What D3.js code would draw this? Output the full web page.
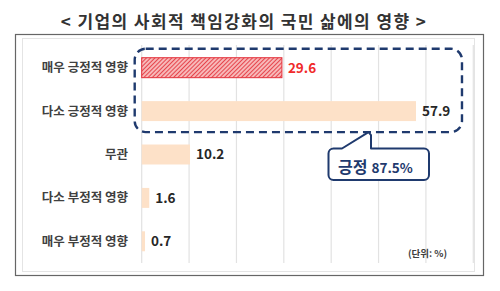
<!DOCTYPE html>
<html><head><meta charset="utf-8">
<script src="https://cdn.jsdelivr.net/npm/d3@7"></script>
<style>
html,body{margin:0;padding:0;background:#fff;}
svg{display:block;}
text{font-family:"Noto Sans CJK KR","Noto Sans",sans-serif;}
</style></head>
<body>
<svg id="c" width="500" height="291"></svg>
<script>
const title = "< 기업의 사회적 책임강화의 국민 삶에의 영향 >";
const categories = ["매우 긍정적 영향","다소 긍정적 영향","무관","다소 부정적 영향","매우 부정적 영향"];
const values = [29.6, 57.9, 10.2, 1.6, 0.7];
const gridTicks = [0,10,20,30,40,50,60,70];
const calloutLabel = "긍정";
const calloutValue = "87.5%";
const unitLabel = "(단위: %)";

const svg = d3.select("#c");
const navy = "#1f3a6e";

// pattern
const defs = svg.append("defs");
const pat = defs.append("pattern").attr("id","hatch").attr("patternUnits","userSpaceOnUse")
  .attr("width",3).attr("height",3).attr("patternTransform","rotate(45)");
pat.append("rect").attr("width",3).attr("height",3).attr("fill","#f7b8b8");
pat.append("line").attr("x1",0).attr("y1",0).attr("x2",0).attr("y2",3).attr("stroke","#e3303a").attr("stroke-width",1.7);

// title
svg.append("text").attr("x",244).attr("y",28).attr("text-anchor","middle")
  .attr("font-size",17).attr("font-weight","bold").attr("fill","#333")
  .attr("letter-spacing",1.4).text(title);

// frames
svg.append("rect").attr("x",15.5).attr("y",34.5).attr("width",468).attr("height",241)
  .attr("fill","#fff").attr("stroke","#666").attr("stroke-width",1.2);
svg.append("rect").attr("x",22.5).attr("y",38.5).attr("width",452).attr("height",233)
  .attr("fill","none").attr("stroke","#e4e4e4").attr("stroke-width",1);

const x = d3.scaleLinear().domain([0,70]).range([141.7,473.3]);
const y = d3.scaleBand().domain(categories).range([46,263]).paddingInner(0.54).paddingOuter(0.27);

// grid
svg.append("g").selectAll("line").data(gridTicks).join("line")
  .attr("x1",d=>x(d)).attr("x2",d=>x(d)).attr("y1",45).attr("y2",263)
  .attr("stroke","#e2e2e2").attr("stroke-width",1.2);

// bars
const data = categories.map((c,i)=>({c,v:values[i],i}));
svg.append("g").selectAll("rect").data(data).join("rect")
  .attr("x",x(0)).attr("y",d=>y(d.c)).attr("width",d=>x(d.v)-x(0)).attr("height",y.bandwidth())
  .attr("fill",d=>d.i===0?"url(#hatch)":"#fde1c8")
  .attr("stroke",d=>d.i===0?"#e3303a":"none").attr("stroke-width",1);

// category labels
svg.append("g").selectAll("text").data(data).join("text")
  .attr("x",128).attr("y",d=>y(d.c)+y.bandwidth()/2).attr("dy","0.36em")
  .attr("text-anchor","end").attr("font-size",12.5).attr("font-weight","bold").attr("fill","#404040")
  .text(d=>d.c);

// value labels
svg.append("g").selectAll("text").data(data).join("text")
  .attr("x",d=>x(d.v)+6).attr("y",d=>y(d.c)+y.bandwidth()/2).attr("dy","0.37em")
  .attr("font-size",13.5).attr("font-weight","bold")
  .attr("fill",d=>d.i===0?"#f02a2a":"#262626")
  .text(d=>d.v.toFixed(1));

// dashed rounded box
const bx0 = x(0)-7, bx1 = x(values[1])+46;
const by0 = y(categories[0])-9, by1 = y(categories[1])+y.bandwidth()+11;
svg.append("rect").attr("x",bx0).attr("y",by0).attr("width",bx1-bx0).attr("height",by1-by0)
  .attr("rx",11).attr("fill","none").attr("stroke",navy).attr("stroke-width",2.4)
  .attr("stroke-dasharray","8,5");

// callout
const cx0=328.5, cx1=429, cy0=148.5, cy1=180, r=5;
const tipX=368.5, tipY=by1, pL=342, pR=371;
const p = d3.path();
p.moveTo(cx0+r,cy0);
p.lineTo(pL,cy0);
p.lineTo(tipX,tipY);
p.lineTo(pR,tipY+3);
p.lineTo(pR,cy0);
p.lineTo(cx1-r,cy0);
p.arcTo(cx1,cy0,cx1,cy0+r,r);
p.lineTo(cx1,cy1-r);
p.arcTo(cx1,cy1,cx1-r,cy1,r);
p.lineTo(cx0+r,cy1);
p.arcTo(cx0,cy1,cx0,cy1-r,r);
p.lineTo(cx0,cy0+r);
p.arcTo(cx0,cy0,cx0+r,cy0,r);
p.closePath();
svg.append("path").attr("d",p.toString()).attr("fill","#fff").attr("stroke",navy).attr("stroke-width",2).attr("stroke-linejoin","round");
const ct = svg.append("text").attr("x",338).attr("y",173).attr("fill",navy).attr("font-weight","bold");
ct.append("tspan").attr("font-size",16).text(calloutLabel);
ct.append("tspan").attr("font-size",13.5).attr("dx",4).text(calloutValue);

// unit
svg.append("text").attr("x",408).attr("y",257).attr("font-size",9.5).attr("font-weight","bold")
  .attr("fill","#404040").text(unitLabel);
</script>
</body></html>
